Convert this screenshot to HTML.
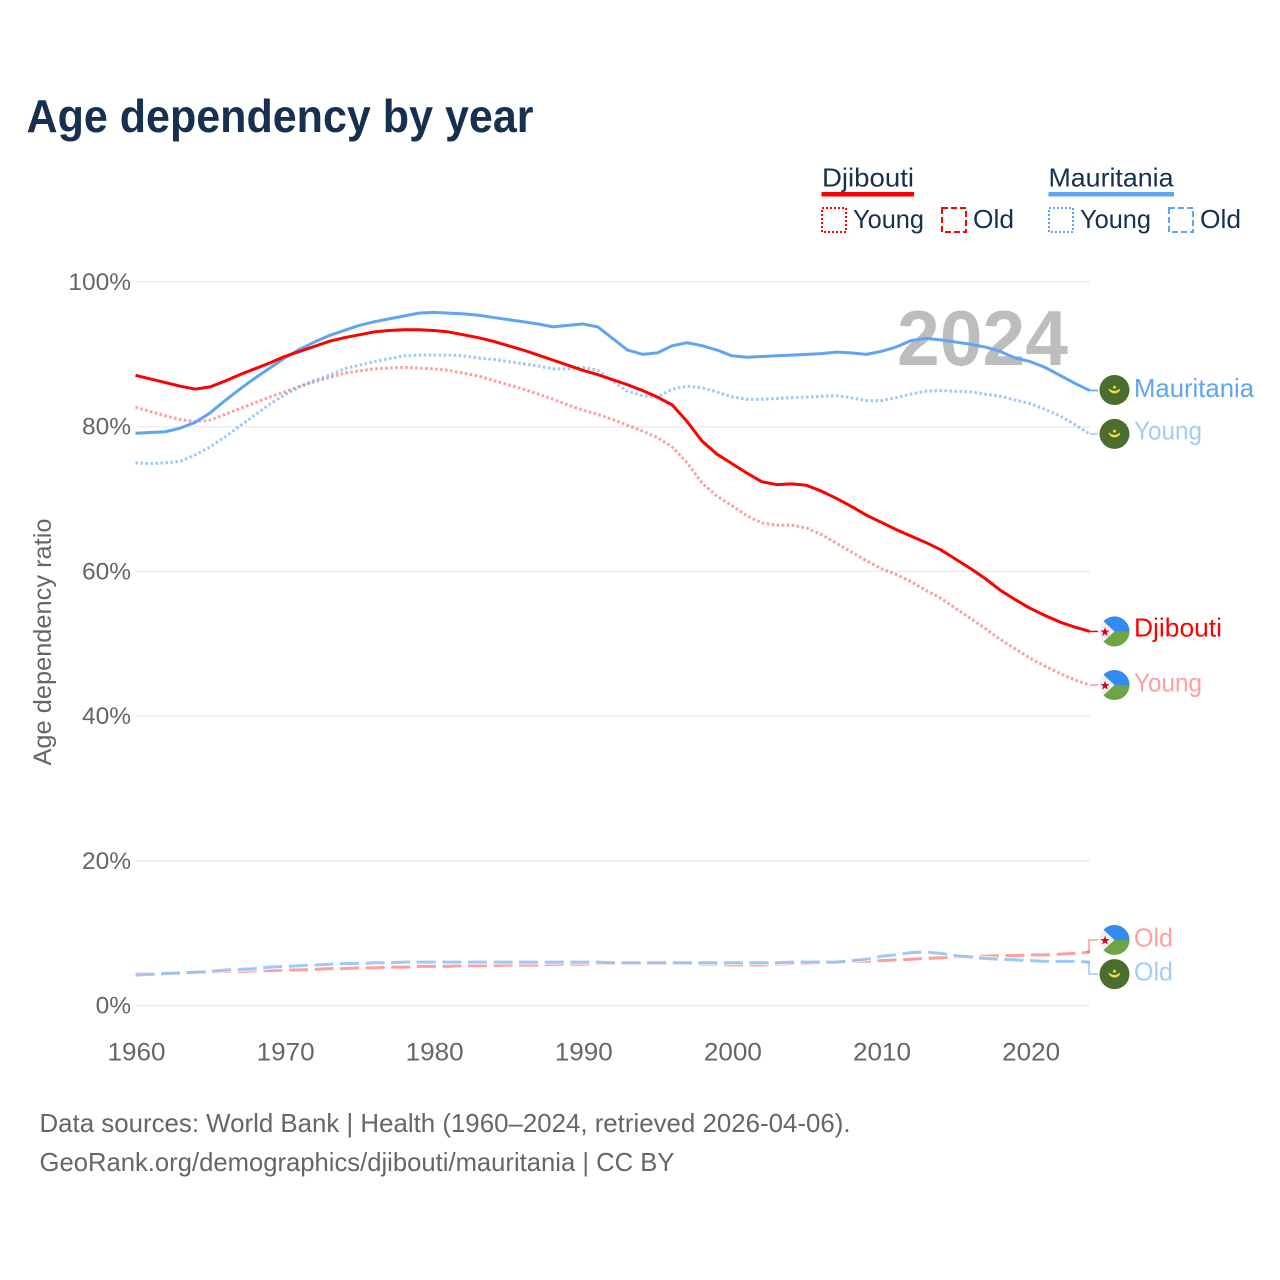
<!DOCTYPE html>
<html lang="en">
<head>
<meta charset="utf-8">
<title>Age dependency by year</title>
<style>
html,body{margin:0;padding:0;background:#fff;}
svg{display:block;}
text{font-family:"Liberation Sans",sans-serif;}
</style>
</head>
<body>
<svg id="chart" xmlns="http://www.w3.org/2000/svg" width="1280" height="1280" viewBox="0 0 1280 1280">
  <rect x="0" y="0" width="1280" height="1280" fill="#fff"/>
  <text x="26.5" y="132" font-size="46" font-weight="700" fill="#17304f" textLength="507" lengthAdjust="spacingAndGlyphs">Age dependency by year</text>

  <g font-size="26" fill="#17304f">
    <text x="822" y="186.5" textLength="92" lengthAdjust="spacingAndGlyphs">Djibouti</text>
    <rect x="821.5" y="192" width="92.5" height="4.5" fill="#ff0000"/>
    <text x="1048.5" y="186.5" textLength="125" lengthAdjust="spacingAndGlyphs">Mauritania</text>
    <rect x="1048.5" y="192" width="125.5" height="4.5" fill="#5fa5f0"/>
    <rect x="822" y="208" width="24" height="24" fill="none" stroke="#ff0000" stroke-width="2" stroke-dasharray="2 2"/>
    <text x="853" y="228" textLength="71" lengthAdjust="spacingAndGlyphs">Young</text>
    <rect x="942" y="208" width="24" height="24" fill="none" stroke="#ff0000" stroke-width="2" stroke-dasharray="6 3"/>
    <text x="973" y="228" textLength="41" lengthAdjust="spacingAndGlyphs">Old</text>
    <rect x="1049" y="208" width="24" height="24" fill="none" stroke="#5fa5f0" stroke-width="2" stroke-dasharray="2 2"/>
    <text x="1080" y="228" textLength="71" lengthAdjust="spacingAndGlyphs">Young</text>
    <rect x="1169" y="208" width="24" height="24" fill="none" stroke="#5fa5f0" stroke-width="2" stroke-dasharray="6 3"/>
    <text x="1200" y="228" textLength="41" lengthAdjust="spacingAndGlyphs">Old</text>
  </g>

  <g id="grid"></g>
  <text x="897" y="365" font-size="78" font-weight="700" fill="#bdbdbd" textLength="171" lengthAdjust="spacingAndGlyphs">2024</text>
  <g id="yticks" font-size="24.5" fill="#666"></g>
  <g id="xticks" font-size="25" fill="#666"></g>
  <text transform="translate(51,642) rotate(-90)" text-anchor="middle" font-size="25" fill="#666" textLength="247" lengthAdjust="spacingAndGlyphs">Age dependency ratio</text>
  <g id="series"></g>
  <g id="endlabels" font-size="26"></g>

  <g font-size="26" fill="#666">
    <text x="39.5" y="1132" textLength="811" lengthAdjust="spacingAndGlyphs">Data sources: World Bank | Health (1960–2024, retrieved 2026-04-06).</text>
    <text x="39.5" y="1171" textLength="635" lengthAdjust="spacingAndGlyphs">GeoRank.org/demographics/djibouti/mauritania | CC BY</text>
  </g>
</svg>
<script>
var years = [1960,1961,1962,1963,1964,1965,1966,1967,1968,1969,1970,1971,1972,1973,1974,1975,1976,1977,1978,1979,1980,1981,1982,1983,1984,1985,1986,1987,1988,1989,1990,1991,1992,1993,1994,1995,1996,1997,1998,1999,2000,2001,2002,2003,2004,2005,2006,2007,2008,2009,2010,2011,2012,2013,2014,2015,2016,2017,2018,2019,2020,2021,2022,2023,2024];
var xTickValues = [1960,1970,1980,1990,2000,2010,2020];
var yTickValues = [0,20,40,60,80,100];

var djiboutiTotal = [87.1,86.6,86.1,85.6,85.2,85.5,86.3,87.2,88,88.8,
  89.7,90.4,91.1,91.8,92.3,92.7,93.1,93.3,93.4,93.4,
  93.3,93.1,92.7,92.3,91.8,91.2,90.6,89.9,89.2,88.5,
  87.8,87.2,86.5,85.8,85,84.1,83,80.7,78,76.2,
  74.9,73.6,72.4,72,72.1,71.9,71.1,70.1,69,67.8,
  66.8,65.8,64.9,64,63,61.7,60.4,59,57.4,56.1,
  54.9,53.9,53,52.3,51.7];
var djiboutiYoung = [82.7,82.1,81.5,81,80.7,80.9,81.7,82.5,83.3,84.1,
  84.8,85.6,86.2,86.8,87.4,87.7,88,88.1,88.2,88.1,
  88,87.8,87.4,87,86.4,85.8,85.2,84.5,83.8,83,
  82.3,81.7,81,80.2,79.4,78.5,77.2,75,72.2,70.4,
  69.1,67.7,66.7,66.4,66.4,66,65.1,63.9,62.7,61.5,
  60.4,59.6,58.6,57.4,56.3,54.9,53.5,52.1,50.6,49.3,
  48,46.9,45.9,45,44.3];
var djiboutiOld = [4.4,4.4,4.5,4.5,4.6,4.6,4.7,4.7,4.8,4.8,
  4.9,4.9,5.0,5.1,5.1,5.2,5.2,5.3,5.3,5.4,
  5.4,5.4,5.5,5.5,5.5,5.6,5.6,5.6,5.7,5.7,
  5.7,5.8,5.8,5.8,5.8,5.8,5.8,5.8,5.7,5.7,
  5.6,5.6,5.6,5.7,5.8,5.8,5.9,6.0,6.1,6.1,
  6.2,6.3,6.4,6.5,6.6,6.7,6.8,6.8,6.9,6.9,
  7.0,7.0,7.1,7.2,7.4];
var mauritaniaTotal = [79.1,79.2,79.3,79.8,80.6,81.9,83.6,85.2,86.7,88.1,
  89.5,90.7,91.7,92.6,93.3,94,94.5,94.9,95.3,95.7,
  95.8,95.7,95.6,95.4,95.1,94.8,94.5,94.2,93.8,94,
  94.2,93.8,92.2,90.6,90,90.2,91.2,91.6,91.2,90.6,
  89.8,89.6,89.7,89.8,89.9,90,90.1,90.3,90.2,90,
  90.4,91,91.9,92.2,92,91.7,91.4,91,90.4,89.5,
  89,88.2,87.1,86,85];
var mauritaniaYoung = [75,74.9,75,75.2,76.1,77.2,78.6,80.1,81.6,83.1,
  84.4,85.5,86.4,87.1,88,88.5,89,89.4,89.8,89.9,
  89.9,89.9,89.8,89.5,89.3,89,88.7,88.4,88,88,
  88.2,87.8,86.3,84.9,84.3,84.1,85.2,85.6,85.4,84.8,
  84.1,83.8,83.8,83.9,84,84.1,84.2,84.3,84,83.6,
  83.6,84,84.5,84.9,85,84.9,84.8,84.5,84.2,83.7,
  83.2,82.4,81.5,80.3,79];
var mauritaniaOld = [4.2,4.3,4.4,4.5,4.6,4.7,4.9,5.0,5.1,5.3,
  5.4,5.5,5.6,5.7,5.8,5.8,5.9,5.9,6.0,6.0,
  6.0,6.0,6.0,6.0,6.0,6.0,6.0,6.0,6.0,6.0,
  6.0,6.0,5.9,5.9,5.9,5.9,5.9,5.9,5.9,5.9,
  5.9,5.9,5.9,5.9,6.0,6.0,6.0,6.0,6.2,6.4,
  6.8,7.0,7.3,7.4,7.2,6.9,6.7,6.5,6.4,6.3,
  6.2,6.1,6.1,6.1,6.0];

var NS = 'http://www.w3.org/2000/svg';
function xScale(year){ return 135.5 + (year - 1960) * 14.91; }
function yScale(pct){ return 1005.5 - pct * 7.235; }
function make(tag, attrs, parent, txt){
  var el = document.createElementNS(NS, tag);
  for (var k in attrs) el.setAttribute(k, attrs[k]);
  if (txt !== undefined) el.textContent = txt;
  parent.appendChild(el);
  return el;
}
var gridG = document.getElementById('grid');
var yTickG = document.getElementById('yticks');
var xTickG = document.getElementById('xticks');
var seriesG = document.getElementById('series');
var labelG = document.getElementById('endlabels');

yTickValues.forEach(function(v){
  var line = make('line', {x1:135.5, x2:1090, y1:yScale(v), y2:yScale(v), stroke:'#eeeeee', 'stroke-width':1.5}, gridG);
  
  
  var label = make('text', {x:131, y:yScale(v) + 8, 'text-anchor':'end'}, yTickG, v + '%');
  
  
});
xTickValues.forEach(function(v){
  var label = make('text', {x:xScale(v) + 1, y:1060.5, 'text-anchor':'middle', textLength:58, lengthAdjust:'spacingAndGlyphs'}, xTickG, String(v));
  
  
});

function drawSeries(name, values, color, width, dash, opacity, halo){
  var pts = values.map(function(v, i){ return xScale(years[i]).toFixed(2) + ',' + yScale(v).toFixed(2); }).join(' ');
  if (halo) {
    var under = make('polyline', {points:pts, fill:'none', stroke:'#fff', 'stroke-width':5, 'stroke-opacity':0.8, 'stroke-dasharray':dash || 'none'}, seriesG);
    
    
  }
  var line = make('polyline', {points:pts, fill:'none', stroke:color, 'stroke-width':width, 'stroke-opacity':opacity, 'stroke-dasharray':dash || 'none', 'stroke-linejoin':'round'}, seriesG);
  
  
}
var RED = '#ff0000', BLUE = '#5fa5f0', DOT = '2.6 2.4', DASH = '19 6.6';
drawSeries('line-djibouti-old', djiboutiOld, RED, 3, DASH, 0.38, true);
drawSeries('line-mauritania-old', mauritaniaOld, BLUE, 3, DASH, 0.6, true);
drawSeries('line-djibouti-young', djiboutiYoung, RED, 3, DOT, 0.38, false);
drawSeries('line-mauritania-young', mauritaniaYoung, BLUE, 3, DOT, 0.6, false);
drawSeries('line-mauritania-total', mauritaniaTotal, BLUE, 3, null, 1, false);
drawSeries('line-djibouti-total', djiboutiTotal, RED, 3, null, 1, false);

function flagDjibouti(cx, cy){
  var g = make('g', {transform:'translate(' + cx + ',' + cy + ')'}, labelG);
  
  
  make('circle', {r:15, fill:'#f0f0f0'}, g);
  make('path', {d:'M-11,-10.2 A15,15 0 0 1 15,0 L0,0 Z', fill:'#338af3'}, g);
  make('path', {d:'M-11,10.2 A15,15 0 0 0 15,0 L0,0 Z', fill:'#6da544'}, g);
  make('path', {d:'M-9.5,-4.2 L-8.3,-0.9 -4.9,-0.9 -7.6,1.2 -6.7,4.6 -9.5,2.6 -12.3,4.6 -11.4,1.2 -14.1,-0.9 -10.7,-0.9 Z', fill:'#d80027'}, g);
}
function flagMauritania(cx, cy){
  var g = make('g', {transform:'translate(' + cx + ',' + cy + ')'}, labelG);
  
  
  make('circle', {r:15, fill:'#496e2d'}, g);
  make('path', {d:'M-5.5,-1 A5.8,5.8 0 0 0 5.5,-1 A7.5,7.5 0 0 1 -5.5,-1 Z', fill:'#ffda44', stroke:'#ffda44', 'stroke-width':1}, g);
  make('circle', {cx:0, cy:-2.8, r:1.5, fill:'#ffda44'}, g);
}
function leader(color, opacity, points, name){
  var p = make('polyline', {points:points, fill:'none', stroke:color, 'stroke-width':1.5, 'stroke-opacity':opacity}, labelG);
  
  
}
function endLabel(text, y, color, width, name){
  var t = make('text', {x:1134, y:y + 7.5, fill:color, textLength:width, lengthAdjust:'spacingAndGlyphs'}, labelG, text);
  
  
}
function last(arr){ return arr[arr.length - 1]; }
var endX = xScale(2024);
var yMT = yScale(last(mauritaniaTotal)), yMY = yScale(last(mauritaniaYoung));
var yDT = yScale(last(djiboutiTotal)), yDY = yScale(last(djiboutiYoung));
var yDO = yScale(last(djiboutiOld)), yMO = yScale(last(mauritaniaOld));

leader(BLUE, 1, endX + ',' + yMT + ' 1098,' + yMT, 'leader-mauritania-total');
leader(BLUE, 0.6, endX + ',' + yMY + ' 1098,' + yMY, 'leader-mauritania-young');
leader(RED, 1, endX + ',' + yDT + ' 1098,' + yDT, 'leader-djibouti-total');
leader(RED, 0.38, endX + ',' + yDY + ' 1098,' + yDY, 'leader-djibouti-young');
leader(RED, 0.38, '1087,' + yDO + ' 1089,' + yDO + ' 1089,' + (yDO - 12) + ' 1098,' + (yDO - 12), 'leader-djibouti-old');
leader(BLUE, 0.6, '1087,' + yMO + ' 1089,' + yMO + ' 1089,' + (yMO + 12) + ' 1098,' + (yMO + 12), 'leader-mauritania-old');

flagMauritania(1114.5, yMT - 0.5);
flagMauritania(1114.5, yMY);
flagDjibouti(1114.5, yDT);
flagDjibouti(1114.5, yDY);
flagDjibouti(1114.5, yDO - 12);
flagMauritania(1114.5, yMO + 12);

endLabel('Mauritania', yMT - 1, '#5fa5f0', 120, 'end-label-mauritania');
endLabel('Young', yMY - 2, '#a3ccf6', 68, 'end-label-mauritania-young');
endLabel('Djibouti', yDT - 2.5, '#ff0000', 88, 'end-label-djibouti');
endLabel('Young', yDY - 1, '#ff9f9f', 68, 'end-label-djibouti-young');
endLabel('Old', yDO - 13, '#ff9f9f', 39, 'end-label-djibouti-old');
endLabel('Old', yMO + 11, '#a3ccf6', 39, 'end-label-mauritania-old');
</script>
</body>
</html>
